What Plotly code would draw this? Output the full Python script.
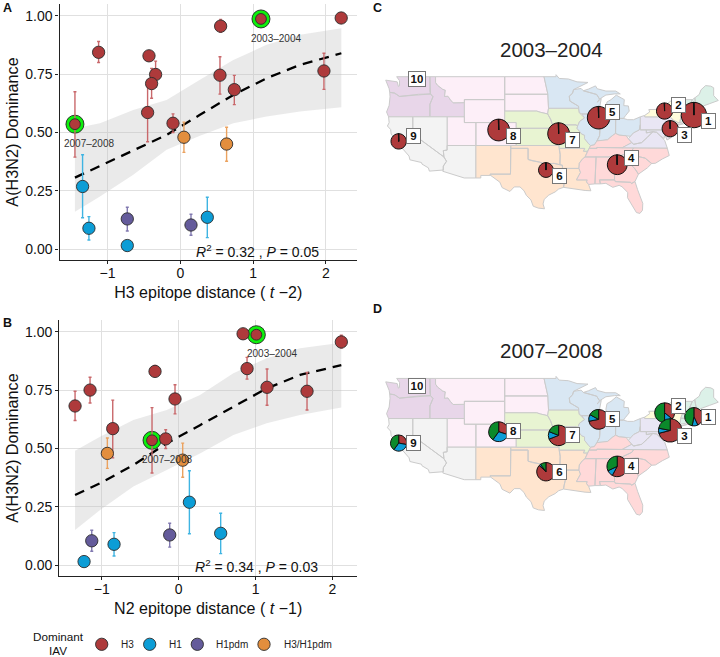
import plotly.graph_objects as go

FONT = "Liberation Sans"
COL = {"H3": "#AE3A3B", "H1": "#0C9DD6", "H1pdm": "#645B9B", "H3/H1pdm": "#E38E3D"}
ERR = {"H3": "#C9686B", "H1": "#3FB4E2", "H1pdm": "#8179B0", "H3/H1pdm": "#EBA25F"}
PIE_H3, PIE_H1, PIE_PDM = "#AE3A3B", "#0C9DD6", "#0B8A2B"
series_names = ["H3", "H1", "H1pdm", "H3/H1pdm"]

# Panel A: (x, y, low, high)
a_x = {"H3": [-1.447, -1.122, -0.43, -0.339, -0.394, -0.449, -0.10, 0.554, 0.545, 0.742, 1.108, 1.973, 2.21],
       "H1": [-1.342, -1.255, -0.728, 0.371], "H1pdm": [-0.728, 0.147], "H3/H1pdm": [0.05, 0.636]}
a_y = {"H3": [0.536, 0.844, 0.829, 0.749, 0.71, 0.586, 0.54, 0.956, 0.746, 0.684, 0.987, 0.764, 0.991],
       "H1": [0.269, 0.09, 0.016, 0.137], "H1pdm": [0.13, 0.104], "H3/H1pdm": [0.48, 0.451]}
a_lo = {"H3": [0.395, 0.80, 0.81, 0.695, 0.647, 0.461, 0.50, 0.93, 0.665, 0.62, 0.98, 0.685, 0.985],
        "H1": [0.135, 0.04, 0.01, 0.05], "H1pdm": [0.078, 0.06], "H3/H1pdm": [0.415, 0.377]}
a_hi = {"H3": [0.675, 0.89, 0.85, 0.806, 0.775, 0.71, 0.58, 0.985, 0.825, 0.745, 0.995, 0.84, 0.995],
        "H1": [0.405, 0.14, 0.02, 0.223], "H1pdm": [0.18, 0.15], "H3/H1pdm": [0.545, 0.523]}
a_fit_x = [-1.447, -1.103, -0.646, -0.188, 0.27, 0.728, 1.186, 1.644, 2.212]
a_fit_y = [0.307, 0.357, 0.426, 0.49, 0.576, 0.661, 0.733, 0.79, 0.84]
a_fit_hi = [0.519, 0.54, 0.597, 0.64, 0.726, 0.811, 0.876, 0.919, 0.947]
a_fit_lo = [0.161, 0.226, 0.319, 0.426, 0.486, 0.54, 0.569, 0.59, 0.609]
a_ring_x, a_ring_y = [-1.447, 1.108], [0.536, 0.987]
a_ring_lab = [(1.314, 0.904, "2003–2004"), (-1.25, 0.453, "2007–2008")]

# Panel B
b_x = {"H3": [-1.348, -1.153, -0.858, -0.308, -0.048, -0.169, -0.347, 0.837, 1.01, 0.889, 1.149, 1.669, 2.115],
       "H1": [-1.231, -0.841, 0.139, 0.546], "H1pdm": [-1.131, -0.117], "H3/H1pdm": [-0.928, 0.052]}
b_y = {"H3": [0.682, 0.75, 0.585, 0.83, 0.712, 0.541, 0.535, 0.991, 0.987, 0.842, 0.762, 0.745, 0.956],
       "H1": [0.016, 0.09, 0.27, 0.137], "H1pdm": [0.105, 0.13], "H3/H1pdm": [0.479, 0.45]}
b_lo = {"H3": [0.62, 0.695, 0.46, 0.81, 0.648, 0.50, 0.395, 0.985, 0.98, 0.797, 0.685, 0.665, 0.93],
        "H1": [0.01, 0.04, 0.135, 0.05], "H1pdm": [0.06, 0.078], "H3/H1pdm": [0.415, 0.377]}
b_hi = {"H3": [0.745, 0.805, 0.707, 0.855, 0.773, 0.58, 0.675, 0.995, 0.995, 0.89, 0.84, 0.825, 0.985],
        "H1": [0.02, 0.14, 0.405, 0.223], "H1pdm": [0.15, 0.18], "H3/H1pdm": [0.545, 0.523]}
b_fit_x = [-1.348, -1.023, -0.59, -0.156, 0.277, 0.711, 1.144, 1.578, 2.115]
b_fit_y = [0.301, 0.351, 0.429, 0.522, 0.60, 0.679, 0.757, 0.815, 0.857]
b_fit_hi = [0.49, 0.55, 0.622, 0.665, 0.729, 0.822, 0.886, 0.929, 0.953]
b_fit_lo = [0.151, 0.237, 0.337, 0.408, 0.479, 0.558, 0.608, 0.643, 0.675]
b_ring_x, b_ring_y = [-0.347, 1.01], [0.535, 0.987]
b_ring_lab = [(1.209, 0.906, "2003–2004"), (-0.147, 0.452, "2007–2008")]

# Map: HHS region capitals and shares
hub_lon = [-71.23, -76.32, -75.34, -84.53, -87.76, -96.9, -94.7, -105.1, -122.45]
hub_lat = [42.31, 43.01, 39.93, 33.65, 41.85, 32.72, 39.06, 39.7, 37.72]
c_size = [12.7, 8.1, 8.1, 9.9, 11.3, 7.4, 10.9, 10.9, 7.7]
d_size = [9.2, 9.9, 11.7, 10.3, 9.9, 9.2, 10.3, 9.9, 8.1]
c_h3 = [0.995] * 9
c_h1 = [0.003] * 9
c_pdm = [0.002] * 9
d_h3 = [0.43, 0.36, 0.71, 0.58, 0.72, 0.87, 0.69, 0.30, 0.28]
d_h1 = [0.10, 0.14, 0.07, 0.10, 0.11, 0.03, 0.12, 0.30, 0.32]
d_pdm = [0.47, 0.50, 0.22, 0.32, 0.17, 0.10, 0.19, 0.40, 0.40]
region_ids = ["1", "2", "3", "4", "5", "6", "7", "8", "9", "10"]
c_lab_lon = [-68.75, -73.83, -72.91, -82.04, -85.34, -94.47, -92.21, -102.56, -119.96, -119.32]
c_lab_lat = [41.33, 44.06, 38.83, 34.76, 42.9, 31.67, 37.95, 38.65, 38.71, 48.59]
d_lab_lat = [42.26, 44.12, 38.94, 33.77, 41.85, 32.72, 39.12, 39.76, 37.78, 47.72]
d_lab_lon = c_lab_lon

REGION_FILL = {1: "#DCF1E8", 2: "#FFFCDC", 3: "#E9E6F4", 4: "#FFD9D9", 5: "#D9E7F3",
               6: "#FFE5CF", 7: "#E8F4D2", 8: "#FDEFF8", 9: "#F3F3F3", 10: "#E8D6E9"}
STATES = {
 10: [
  [(-124.7,48.4),(-123.2,48.2),(-122.7,48.1),(-122.5,47.3),(-122.3,47.4),(-122.3,48.3),(-122.8,49),(-117.03,49),(-117.04,46.42),(-116.92,45.99),(-119,45.93),(-120.5,45.7),(-121.2,45.65),(-122.3,45.55),(-122.8,45.9),(-123.2,46.15),(-124,46.27),(-124.1,46.9)],
  [(-124,46.27),(-123.2,46.15),(-122.8,45.9),(-122.3,45.55),(-121.2,45.65),(-120.5,45.7),(-119,45.93),(-116.92,45.99),(-116.5,45.5),(-117.03,44.2),(-117.03,42),(-124.2,42),(-124.55,42.85),(-124.1,44),(-123.95,45.5)],
  [(-117.03,49),(-116.05,49),(-116.05,48),(-115.7,47.5),(-114.8,46.8),(-114.35,46.65),(-114.5,45.55),(-113.9,45.6),(-113.45,44.95),(-113,44.45),(-111.05,44.48),(-111.05,42),(-117.03,42),(-117.03,44.2),(-116.5,45.5),(-116.92,45.99),(-117.04,46.42)],
 ],
 8: [
  [(-116.05,49),(-104.05,49),(-104.05,45),(-111.05,45),(-111.05,44.48),(-113,44.45),(-113.45,44.95),(-113.9,45.6),(-114.5,45.55),(-114.35,46.65),(-114.8,46.8),(-115.7,47.5),(-116.05,48)],
  [(-111.05,45),(-104.05,45),(-104.05,41),(-111.05,41)],
  [(-104.05,49),(-97.23,49),(-96.8,47),(-96.56,45.94),(-104.05,45.94)],
  [(-104.05,45.94),(-96.56,45.94),(-96.45,43.5),(-96.6,42.5),(-97.9,42.8),(-98.5,43),(-104.05,43)],
  [(-109.05,41),(-102.05,41),(-102.05,37),(-109.05,37)],
  [(-114.05,42),(-111.05,42),(-111.05,41),(-109.05,41),(-109.05,37),(-114.05,37)],
 ],
 9: [
  [(-120,42),(-114.05,42),(-114.05,36.2),(-114.7,36.1),(-114.6,35),(-120,39)],
  [(-124.2,42),(-120,42),(-120,39),(-114.6,35),(-114.15,34.25),(-114.7,33.4),(-114.72,32.72),(-117.12,32.53),(-117.3,33.1),(-118.4,33.75),(-118.5,34.03),(-119.2,34.15),(-120.5,34.5),(-120.65,35.15),(-121.9,36.6),(-122.5,37.5),(-123,38),(-123.75,39),(-123.85,39.8),(-124.4,40.4),(-124.1,41)],
  [(-114.05,37),(-109.05,37),(-109.05,31.33),(-111.07,31.33),(-114.8,32.5),(-114.72,32.72),(-114.7,33.4),(-114.15,34.25),(-114.6,35),(-114.7,36.1),(-114.05,36.2)],
 ],
 6: [
  [(-109.05,37),(-103,37),(-103.05,32),(-106.6,32),(-106.5,31.78),(-108.2,31.78),(-108.2,31.33),(-109.05,31.33)],
  [(-103,37),(-94.62,37),(-94.43,35.4),(-94.48,33.64),(-95.5,33.88),(-97,33.75),(-98,34.1),(-99.2,34.3),(-100,34.56),(-100,36.5),(-103,36.5)],
  [(-103,36.5),(-100,36.5),(-100,34.56),(-99.2,34.3),(-98,34.1),(-97,33.75),(-95.5,33.88),(-94.48,33.64),(-94.04,33.55),(-94.04,31.99),(-93.55,31.2),(-93.75,30.3),(-93.85,29.7),(-94.7,29.4),(-95.3,28.9),(-96.4,28.35),(-97.2,27.6),(-97.4,26.8),(-97.15,25.96),(-98.2,26.07),(-99.1,26.4),(-99.5,27.5),(-100.3,28.3),(-100.7,29.1),(-101.4,29.77),(-102.4,29.77),(-103.15,28.98),(-104.5,29.65),(-104.9,30.6),(-106.5,31.78),(-106.6,32),(-103.05,32)],
  [(-94.62,36.5),(-90.15,36.5),(-90.37,36),(-89.7,36),(-90.1,35),(-90.6,34.6),(-91.1,33.9),(-91.17,33),(-94.04,33),(-94.04,33.55),(-94.48,33.64),(-94.43,35.4)],
  [(-94.04,33),(-91.17,33),(-90.9,32.3),(-91.6,31),(-89.73,31),(-89.85,30.65),(-89.5,30.2),(-89.4,29.8),(-89.1,29.1),(-90.1,29.15),(-91.3,29.3),(-92.3,29.55),(-93.85,29.7),(-93.75,30.3),(-93.55,31.2),(-94.04,31.99)],
 ],
 7: [
  [(-104.05,43),(-98.5,43),(-97.9,42.8),(-96.6,42.5),(-96.1,41.6),(-95.75,40.6),(-95.3,40),(-102.05,40),(-102.05,41),(-104.05,41)],
  [(-102.05,40),(-95.3,40),(-94.9,39.8),(-94.6,39.1),(-94.62,37),(-102.05,37)],
  [(-96.45,43.5),(-91.22,43.5),(-91.1,42.7),(-90.2,41.8),(-91.05,41.2),(-91.4,40.4),(-91.7,40.6),(-95.75,40.6),(-96.1,41.6),(-96.6,42.5)],
  [(-95.75,40.6),(-91.7,40.6),(-91.4,40.4),(-91.5,40),(-90.7,39),(-90.2,38.8),(-90.2,38.2),(-89.5,37.3),(-89.15,36.98),(-89.4,36.5),(-89.7,36),(-90.37,36),(-90.15,36.5),(-94.62,36.5),(-94.62,39.1),(-94.9,39.8),(-95.3,40)],
 ],
 5: [
  [(-97.23,49),(-95.15,49),(-95.15,49.35),(-94.6,48.7),(-93,48.6),(-91.5,48.1),(-89.6,48),(-92.1,46.75),(-92.3,46.1),(-92.85,45.6),(-92.75,44.75),(-91.25,43.85),(-91.22,43.5),(-96.45,43.5),(-96.56,45.94),(-96.8,47)],
  [(-92.1,46.75),(-90.8,46.95),(-90.4,46.55),(-89.1,46.15),(-88.1,45.9),(-87.6,45.1),(-88,44.55),(-87.3,45.2),(-87.5,44.2),(-87.8,43),(-87.8,42.5),(-90.65,42.5),(-91.1,42.7),(-91.22,43.5),(-91.25,43.85),(-92.75,44.75),(-92.85,45.6),(-92.3,46.1)],
  [(-90.65,42.5),(-87.8,42.5),(-87.5,41.7),(-87.53,39.35),(-87.6,38.7),(-88.05,37.8),(-88.5,37.1),(-89.15,36.98),(-89.5,37.3),(-90.2,38.2),(-90.2,38.8),(-90.7,39),(-91.5,40),(-91.4,40.4),(-91.05,41.2),(-90.2,41.8)],
  [(-87.5,41.7),(-86.8,41.76),(-84.8,41.76),(-84.82,39.1),(-85.4,38.7),(-86.2,38),(-87.1,37.85),(-88.05,37.8),(-87.6,38.7),(-87.53,39.35)],
  [(-86.8,41.76),(-84.8,41.72),(-83.45,41.72),(-83.1,42.2),(-82.45,43),(-82.6,43.9),(-83.4,43.95),(-83.3,45),(-84.7,45.78),(-85.6,45),(-86.3,44.6),(-86.5,43.6),(-86.2,42.6)],
  [(-90.4,46.55),(-89.1,46.15),(-88.1,45.9),(-87.6,45.1),(-86.5,45.8),(-85,46),(-84,46),(-84.8,46.5),(-86.5,46.5),(-88,46.9),(-88.3,47.4),(-89.5,46.85)],
  [(-84.8,41.72),(-83.45,41.72),(-82.7,41.5),(-81.7,41.5),(-80.52,42),(-80.52,40.64),(-80.7,39.7),(-81.7,39.2),(-82.2,38.6),(-83,38.7),(-84.2,38.8),(-84.82,39.1)],
 ],
 4: [
  [(-89.15,36.98),(-88.5,37.1),(-88.05,37.8),(-87.1,37.85),(-86.2,38),(-85.4,38.7),(-84.82,39.1),(-84.2,38.8),(-83,38.7),(-82.6,38.2),(-82,37.5),(-83.68,36.6),(-88.07,36.65),(-88.07,36.5),(-89.4,36.5)],
  [(-90.1,35),(-89.7,36),(-89.4,36.5),(-88.07,36.5),(-88.07,36.65),(-83.68,36.6),(-81.68,36.59),(-82,36.1),(-84.32,35)],
  [(-90.1,35),(-88.2,35),(-88.4,30.3),(-89.5,30.2),(-89.85,30.65),(-89.73,31),(-91.6,31),(-90.9,32.3),(-91.17,33),(-91.1,33.9),(-90.6,34.6)],
  [(-88.2,35),(-85.6,35),(-85,32.3),(-85,31),(-87.6,31),(-87.45,30.3),(-88.4,30.3)],
  [(-85.6,35),(-83.1,35),(-83.35,34.7),(-81.5,33),(-80.85,32),(-81.45,30.72),(-82.05,30.36),(-82.2,30.57),(-84.86,30.7),(-85,31),(-85,32.3)],
  [(-87.6,31),(-85,31),(-84.86,30.7),(-82.2,30.57),(-82.05,30.36),(-81.45,30.72),(-81,29.3),(-80.1,26.9),(-80.15,25.7),(-80.6,25.15),(-81.2,25.3),(-81.9,26.5),(-82.75,27.9),(-82.7,28.8),(-83.7,29.8),(-84.2,30.05),(-85.3,29.7),(-86.5,30.4),(-87.45,30.3)],
  [(-83.1,35),(-81,35.1),(-79.7,34.8),(-78.55,33.85),(-79.3,33.1),(-80.85,32),(-81.5,33),(-83.35,34.7)],
  [(-84.32,35),(-82,36.1),(-81.68,36.59),(-75.85,36.55),(-75.5,35.25),(-76.7,34.65),(-77.9,33.9),(-78.55,33.85),(-79.7,34.8),(-81,35.1),(-83.1,35)],
 ],
 3: [
  [(-83.68,36.6),(-81.68,36.59),(-75.85,36.55),(-76.3,37.9),(-77.05,38.7),(-77.7,39.3),(-78.35,39.4),(-79.3,38.4),(-80.3,37.5),(-81.7,37.2),(-82,37.5)],
  [(-82.6,38.2),(-82.2,38.6),(-81.7,39.2),(-80.7,39.7),(-80.52,40.64),(-80.52,39.72),(-79.48,39.72),(-79.48,39.2),(-78.35,39.4),(-79.3,38.4),(-80.3,37.5),(-81.7,37.2),(-82,37.5)],
  [(-79.48,39.72),(-75.79,39.72),(-75.05,38.45),(-75.9,37.95),(-76.3,39),(-76.4,38.2),(-77.05,38.7),(-77.7,39.3),(-78.35,39.4),(-79.48,39.2)],
  [(-75.79,39.72),(-75.4,39.8),(-75.05,38.45),(-75.7,38.45)],
  [(-80.52,42),(-79.76,42.25),(-79.76,42),(-75.35,42),(-74.7,41.36),(-75.13,40.97),(-74.72,40.15),(-75.4,39.8),(-75.79,39.72),(-80.52,39.72)],
 ],
 2: [
  [(-79.76,42),(-79.76,42.25),(-78.9,42.85),(-79.05,43.27),(-76.8,43.3),(-76.2,44),(-75,44.95),(-73.35,45),(-73.4,43.6),(-73.25,42.75),(-73.5,42.05),(-73.65,41),(-74,41),(-74.7,41.36),(-75.35,42)],
  [(-74,40.7),(-72,41.05),(-73.7,40.6)],
  [(-74.7,41.36),(-74,41),(-74,40.4),(-74.1,39.7),(-74.9,38.95),(-75.5,39.5),(-74.72,40.15),(-75.13,40.97)],
 ],
 1: [
  [(-73.5,42.05),(-71.8,42.02),(-71.85,41.32),(-73.65,41)],
  [(-71.8,42.02),(-71.38,42.02),(-71.15,41.5),(-71.85,41.32)],
  [(-73.25,42.75),(-71.3,42.7),(-70.8,42.85),(-70.6,41.95),(-70,42),(-70,41.7),(-71.15,41.5),(-71.38,42.02),(-73.5,42.05)],
  [(-73.35,45),(-71.5,45),(-72.45,42.73),(-73.25,42.75),(-73.4,43.6)],
  [(-71.5,45),(-71.08,45.3),(-70.7,43.1),(-70.8,42.85),(-71.3,42.7),(-72.45,42.73)],
  [(-71.08,45.3),(-70.3,45.9),(-70,46.7),(-69.2,47.45),(-68.3,47.35),(-67.8,47.07),(-67.8,45.7),(-67,44.85),(-68.5,44.3),(-70,43.75),(-70.7,43.1)],
 ],
}

W, H = 720, 657
dx = lambda p: p / W
dy = lambda p: 1 - p / H

fig = go.Figure()


def scatter_panel(xa, ya, xs, ys, los, his, fx, fy, fhi, flo, rx, ry):
    fig.add_trace(go.Scatter(x=fx + fx[::-1], y=fhi + flo[::-1], mode="lines", fill="toself",
                             fillcolor="rgba(190,190,190,0.32)", line=dict(width=0),
                             xaxis=xa, yaxis=ya, showlegend=False, hoverinfo="skip"))
    fig.add_trace(go.Scatter(x=fx, y=fy, mode="lines", line=dict(color="black", width=2.3, dash="10px,7px"),
                             xaxis=xa, yaxis=ya, showlegend=False, hoverinfo="skip"))
    fig.add_trace(go.Scatter(x=rx, y=ry, mode="markers",
                             marker=dict(size=18, color="#0CF00C", line=dict(color="#222", width=0.9)),
                             xaxis=xa, yaxis=ya, showlegend=False, hoverinfo="skip"))
    for name in series_names:
        x, y, lo, hi = xs[name], ys[name], los[name], his[name]
        sizes = [10.8 if v in rx else 12.3 for v in x]
        fig.add_trace(go.Scatter(
            x=x, y=y, mode="markers", name=name, xaxis=xa, yaxis=ya, showlegend=False,
            marker=dict(size=sizes, color=COL[name], opacity=1, line=dict(color="#2B2B2B", width=0.9)),
            error_y=dict(type="data", symmetric=False, array=[h - v for h, v in zip(hi, y)],
                         arrayminus=[v - l for v, l in zip(y, lo)], color=ERR[name], thickness=1.4, width=1.5),
        ))


scatter_panel("x", "y", a_x, a_y, a_lo, a_hi, a_fit_x, a_fit_y, a_fit_hi, a_fit_lo, a_ring_x, a_ring_y)
scatter_panel("x2", "y2", b_x, b_y, b_lo, b_hi, b_fit_x, b_fit_y, b_fit_hi, b_fit_lo, b_ring_x, b_ring_y)

for xa, ya in (("x3", "y3"), ("x4", "y4")):
    for reg, polys in STATES.items():
        xx, yy = [], []
        for poly in polys:
            xx += [p[0] for p in poly] + [poly[0][0], None]
            yy += [p[1] for p in poly] + [poly[0][1], None]
        fig.add_trace(go.Scatter(x=xx, y=yy, mode="lines", fill="toself", fillcolor=REGION_FILL[reg],
                                 line=dict(color="#CBCBCB", width=1), xaxis=xa, yaxis=ya,
                                 showlegend=False, hoverinfo="skip"))

# Legend keys, drawn on a pixel-scaled helper axis
legend_key_x = [101.7, 149.7, 197.3, 264]
legend_text_x = [119, 167, 214, 281.7]
fig.add_trace(go.Scatter(x=legend_key_x, y=[0.5] * 4, mode="markers", xaxis="x5", yaxis="y5", showlegend=False,
                         hoverinfo="skip",
                         marker=dict(size=12.3, color=[COL[n] for n in series_names], opacity=1,
                                     line=dict(color="#2B2B2B", width=0.9))))

# Map axes geometry (pixels)
MAP_L, MAP_R = 380, 720
LON0, LON1 = -125.69, -66.7
C_T, C_B = 70, 220
LAT_T, LAT_B = 50.17, 24.0
D_SHIFT = 301.7


def add_pies(h3, h1, pdm, size, shift):
    for lon, lat, a, b, c, r in zip(hub_lon, hub_lat, h3, h1, pdm, size):
        px = MAP_L + (lon - LON0) / (LON1 - LON0) * (MAP_R - MAP_L)
        py = C_T + shift + (LAT_T - lat) / (LAT_T - LAT_B) * (C_B - C_T)
        fig.add_trace(go.Pie(values=[a, b, c], sort=False, direction="clockwise", rotation=0,
                             textinfo="none", hoverinfo="skip", showlegend=False,
                             marker=dict(colors=[PIE_H3, PIE_H1, PIE_PDM], line=dict(color="#111", width=1)),
                             domain=dict(x=[dx(px - r), dx(px + r)], y=[dy(py + r), dy(py - r)])))


add_pies(c_h3, c_h1, c_pdm, c_size, 0)
add_pies(d_h3, d_h1, d_pdm, d_size, D_SHIFT)

anns = []


def note(x, y, text, size, xref="paper", yref="paper", color="#111", xanchor="center"):
    anns.append(dict(x=x, y=y, text=text, xref=xref, yref=yref, showarrow=False, xanchor=xanchor, yanchor="middle",
                     font=dict(family=FONT, size=size, color=color)))


for letter, px, py in (("A", 7, 8), ("B", 7, 323), ("C", 377, 8), ("D", 377, 309)):
    note(dx(px), dy(py), f"<b>{letter}</b>", 12.5)
note(dx(551), dy(49), "2003–2004", 20.5, color="#222")
note(dx(551), dy(350), "2007–2008", 20.5, color="#222")
for x, y, t in a_ring_lab:
    note(x, y, t, 10, "x", "y", "#333")
for x, y, t in b_ring_lab:
    note(x, y, t, 10, "x2", "y2", "#333")
note(1.067, -0.008, "<i>R</i><sup>2</sup> = 0.32 , <i>P</i> = 0.05", 14, "x", "y")
note(1.014, -0.005, "<i>R</i><sup>2</sup> = 0.34 , <i>P</i> = 0.03", 14, "x2", "y2")
note(dx(58), dy(636.5), "Dominant", 11.7)
note(dx(58), dy(650), "IAV", 11.7)
for x, t in zip(legend_text_x, series_names):
    note(dx(x), dy(644.3), t, 10, color="#222", xanchor="left")
for lon, lat, t in zip(c_lab_lon, c_lab_lat, region_ids):
    anns.append(dict(x=lon, y=lat, text=f"<b>{t}</b>", xref="x3", yref="y3", showarrow=False,
                     font=dict(family=FONT, size=11.5, color="#111"), bgcolor="white", bordercolor="#777",
                     borderwidth=1, borderpad=1.5, width=10 if len(t) == 1 else 13, height=11))
for lon, lat, t in zip(d_lab_lon, d_lab_lat, region_ids):
    anns.append(dict(x=lon, y=lat, text=f"<b>{t}</b>", xref="x4", yref="y4", showarrow=False,
                     font=dict(family=FONT, size=11.5, color="#111"), bgcolor="white", bordercolor="#777",
                     borderwidth=1, borderpad=1.5, width=10 if len(t) == 1 else 13, height=11))


def sc_x(domain, rng, title):
    return dict(domain=domain, range=rng, tickvals=[-1, 0, 1, 2], ticks="outside", ticklen=3, tickwidth=1,
                tickcolor="#222", showline=True, linecolor="#222", linewidth=1.4, showgrid=True, gridcolor="#E0E0E0",
                gridwidth=1.4, zeroline=False, tickfont=dict(family=FONT, size=14, color="#111"),
                ticklabelstandoff=-3,
                title=dict(text=title, font=dict(family=FONT, size=16, color="#111"), standoff=6))


def sc_y(domain, rng, anchor):
    return dict(domain=domain, range=rng, tickvals=[0, 0.25, 0.5, 0.75, 1], tickformat=".2f", ticks="outside",
                ticklen=3, tickwidth=1, tickcolor="#222", showline=True, linecolor="#222", linewidth=1.4,
                showgrid=True, gridcolor="#E0E0E0", gridwidth=1.4, zeroline=False, anchor=anchor,
                tickfont=dict(family=FONT, size=14, color="#111"),
                title=dict(text="A(H3N2) Dominance", font=dict(family=FONT, size=16.2, color="#111"), standoff=2))


hide = dict(visible=False, showgrid=False, zeroline=False, fixedrange=True)
fig.update_layout(
    width=W, height=H, margin=dict(l=0, r=0, t=0, b=0, autoexpand=False), paper_bgcolor="white", plot_bgcolor="white",
    font=dict(family=FONT), annotations=anns, showlegend=False,
    xaxis=sc_x([dx(59.5), dx(357)], [-1.659, 2.427], "H3 epitope distance ( <i>t</i> −2)"),
    yaxis=sc_y([dy(260), dy(4)], [-0.046, 1.051], "x"),
    xaxis2=sc_x([dx(59.3), dx(357)], [-1.553, 2.319], "N2 epitope distance ( <i>t</i> −1)") | dict(anchor="y2"),
    yaxis2=sc_y([dy(576), dy(320)], [-0.0457, 1.05], "x2"),
    xaxis3=dict(domain=[dx(MAP_L), dx(MAP_R)], range=[LON0, LON1], anchor="y3", **hide),
    yaxis3=dict(domain=[dy(C_B), dy(C_T)], range=[LAT_B, LAT_T], anchor="x3", **hide),
    xaxis4=dict(domain=[dx(MAP_L), dx(MAP_R)], range=[LON0, LON1], anchor="y4", **hide),
    yaxis4=dict(domain=[dy(C_B + D_SHIFT), dy(C_T + D_SHIFT)], range=[LAT_B, LAT_T], anchor="x4", **hide),
    xaxis5=dict(domain=[0, 1], range=[0, W], anchor="y5", **hide),
    yaxis5=dict(domain=[dy(654.3), dy(634.3)], range=[0, 1], anchor="x5", **hide),
)
fig.write_html("out.html", config={"displayModeBar": False}, post_script="document.body.style.margin='0';")
